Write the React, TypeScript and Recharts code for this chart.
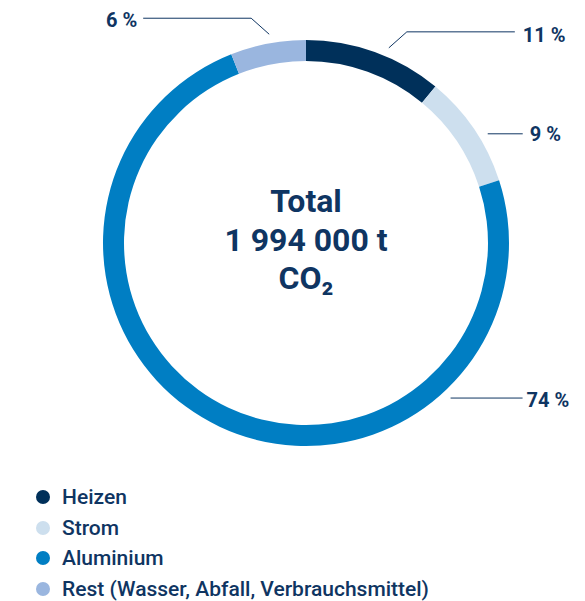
import React from 'react';
import { PieChart, Pie, Cell, Legend } from 'recharts';

const categories = ['Heizen', 'Strom', 'Aluminium', 'Rest (Wasser, Abfall, Verbrauchsmittel)'];
const shares = [11, 9, 74, 6];
const colors = ['#00305a', '#cddfee', '#007ec3', '#9ab6df'];
const centerLines = ['Total', '1 994 000 t', 'CO₂'];

const data = categories.map((name, i) => ({ name, value: shares[i] }));

const TEXT = '#0f3562';
const FONT = 'Roboto, "Noto Sans", sans-serif';

// leader line layout per slice: anchor angle on ring, optional elbow, horizontal run
const leaders = [
  { angle: 67, elbow: [18, -16], run: 108, gap: 8, dy: 3 },
  { angle: 31, elbow: null, run: 35, gap: 7, dy: 0 },
  { angle: -47, elbow: null, run: 72, gap: 4, dy: 2 },
  { angle: 100, elbow: [-18, -16], run: -108, gap: 6, dy: 2 },
];

const RAD = Math.PI / 180;

function renderLabel(props: any) {
  const { cx, cy, outerRadius, index, percent } = props;
  const l = leaders[index];
  const r = outerRadius + 9;
  const sx = cx + r * Math.cos(l.angle * RAD);
  const sy = cy - r * Math.sin(l.angle * RAD);
  const ex = l.elbow ? sx + l.elbow[0] : sx;
  const ey = l.elbow ? sy + l.elbow[1] : sy;
  const hx = ex + l.run;
  const right = l.run > 0;
  const points = l.elbow ? `${sx},${sy} ${ex},${ey} ${hx},${ey}` : `${sx},${sy} ${hx},${ey}`;
  return (
    <g key={`lbl-${index}`}>
      <polyline points={points} fill="none" stroke={TEXT} strokeWidth={1} />
      <text
        x={right ? hx + l.gap : hx - l.gap}
        y={ey + l.dy}
        textAnchor={right ? 'start' : 'end'}
        dominantBaseline="central"
        fill={TEXT}
        fontFamily={FONT}
        fontWeight={700}
        fontSize={20}
      >
        {`${Math.round(percent * 100)} %`}
      </text>
    </g>
  );
}

function LegendContent() {
  return (
    <ul style={{ listStyle: 'none', margin: 0, padding: 0, fontFamily: FONT }}>
      {categories.map((c, i) => (
        <li key={c} style={{ display: 'flex', alignItems: 'center', height: 30.5 }}>
          <span
            style={{
              width: 14,
              height: 14,
              borderRadius: '50%',
              background: colors[i],
              display: 'inline-block',
              marginRight: 12,
            }}
          />
          <span style={{ color: TEXT, fontSize: 21, fontWeight: 500 }}>{c}</span>
        </li>
      ))}
    </ul>
  );
}

const CX = 306;
const CY = 243;

export default function App() {
  return (
    <div style={{ position: 'absolute', left: 0, top: 0, width: 585, height: 601, background: '#fff' }}>
      <PieChart width={585} height={601} margin={{ top: 0, right: 0, bottom: 0, left: 0 }}>
        <Pie
          data={data}
          dataKey="value"
          nameKey="name"
          cx={CX}
          cy={CY}
          outerRadius={203}
          innerRadius={182}
          startAngle={90}
          endAngle={-270}
          stroke="none"
          label={renderLabel}
          labelLine={false}
          isAnimationActive={false}
        >
          {data.map((d, i) => (
            <Cell key={d.name} fill={colors[i]} />
          ))}
        </Pie>
        <Legend
          content={<LegendContent />}
          layout="horizontal"
          verticalAlign="bottom"
          align="left"
          wrapperStyle={{ position: 'absolute', left: 36, top: 482, width: 520 }}
        />
      </PieChart>
      <svg
        width={585}
        height={601}
        style={{ position: 'absolute', left: 0, top: 0, pointerEvents: 'none' }}
      >
        <text textAnchor="middle" fill={TEXT} fontFamily={FONT} fontWeight={700} fontSize={32}>
          {centerLines.map((t, i) => (
            <tspan key={t} x={CX} y={CY - 31 + i * 38.5}>
              {t}
            </tspan>
          ))}
        </text>
      </svg>
    </div>
  );
}
